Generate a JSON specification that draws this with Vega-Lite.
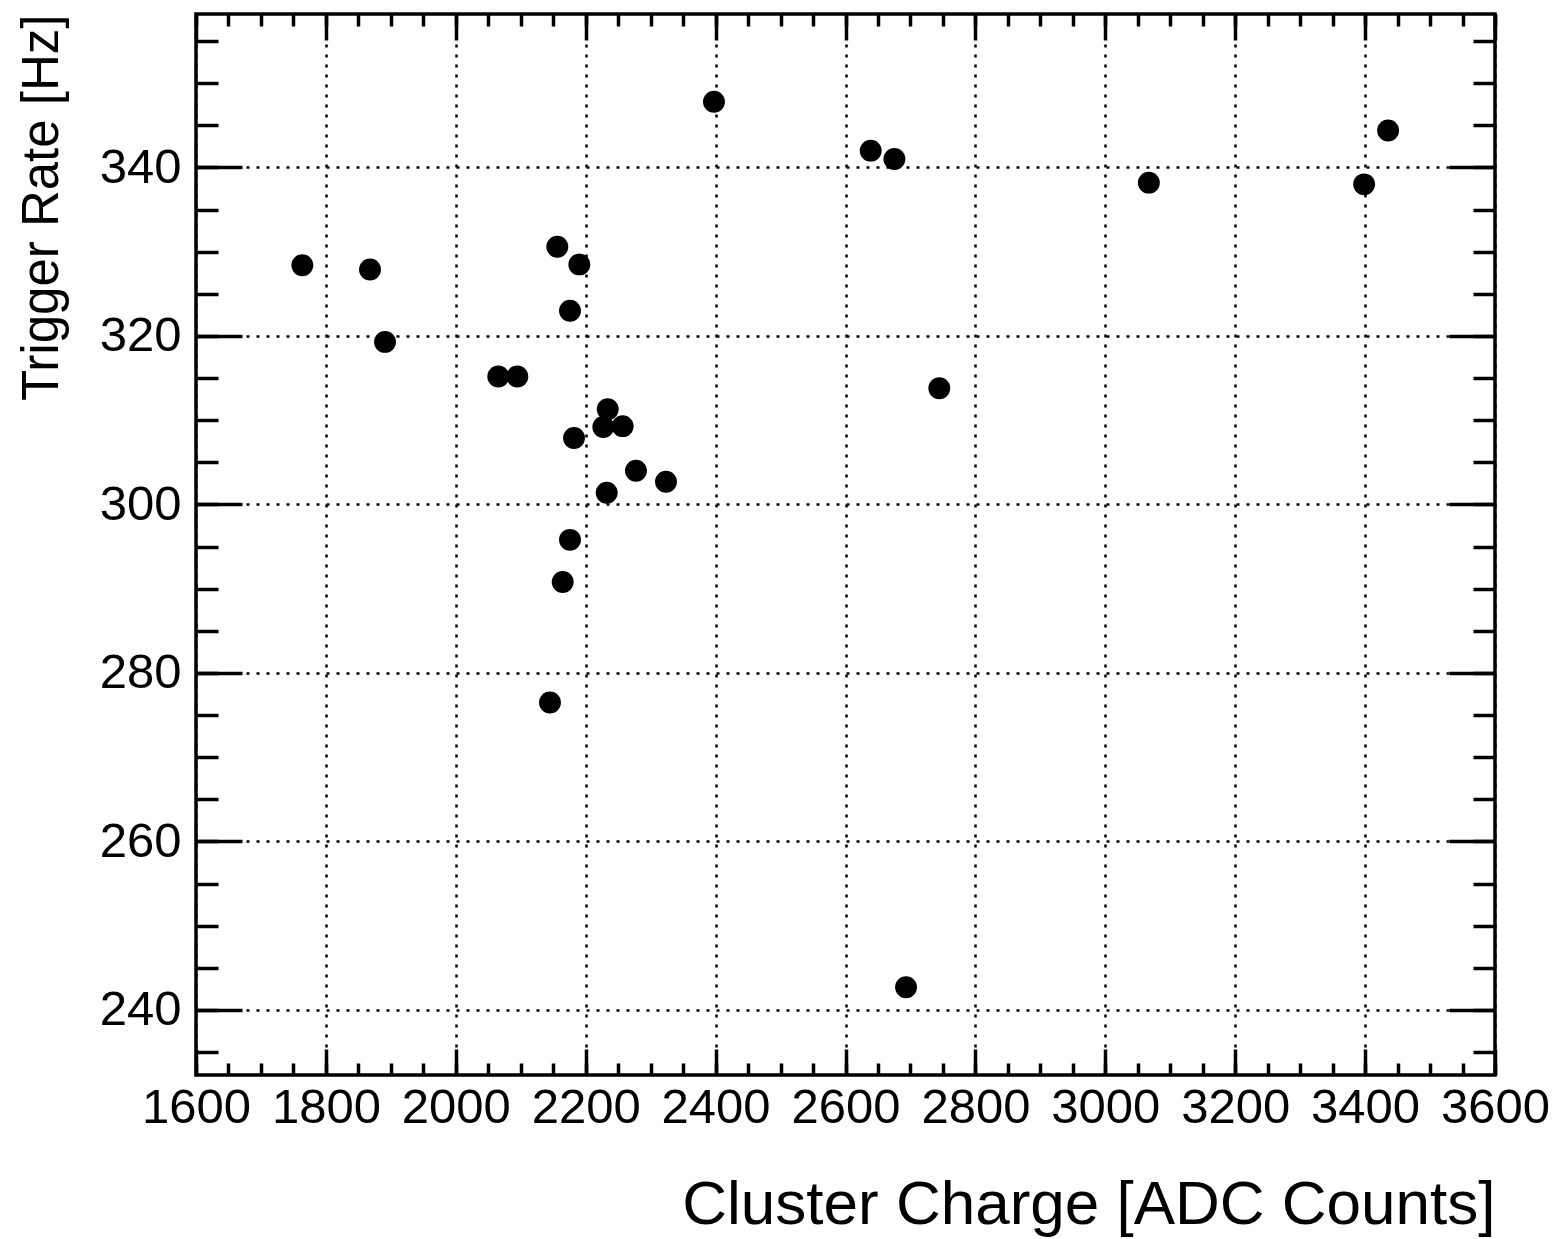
{
  "$schema": "https://vega.github.io/schema/vega-lite/v6.json",
  "autosize": {"type": "none"},
  "padding": {"left": 196, "top": 14, "right": 66, "bottom": 164},
  "width": 1299,
  "height": 1061,
  "background": "white",
  "config": {
    "font": "Liberation Sans",
    "view": {"stroke": "black", "strokeWidth": 3.5},
    "axis": {
      "domain": false,
      "tickColor": "black",
      "tickWidth": 3.5,
      "labelColor": "black",
      "labelFont": "Liberation Sans",
      "labelFontSize": 49,
      "titleFont": "Liberation Sans",
      "titleColor": "black",
      "titleFontWeight": "normal",
      "labelFlush": false,
      "labelOverlap": false,
      "labelBound": false
    }
  },
  "data": {
    "values": [
      {"charge": 1763.7, "rate": 328.4},
      {"charge": 1867.9, "rate": 327.9},
      {"charge": 1891.0, "rate": 319.3},
      {"charge": 2065.4, "rate": 315.2},
      {"charge": 2094.7, "rate": 315.2},
      {"charge": 2156.3, "rate": 330.6},
      {"charge": 2190.2, "rate": 328.5},
      {"charge": 2175.8, "rate": 323.0},
      {"charge": 2182.0, "rate": 307.9},
      {"charge": 2233.9, "rate": 311.3},
      {"charge": 2227.1, "rate": 309.2},
      {"charge": 2256.9, "rate": 309.3},
      {"charge": 2277.4, "rate": 304.0},
      {"charge": 2323.6, "rate": 302.7},
      {"charge": 2232.3, "rate": 301.4},
      {"charge": 2175.8, "rate": 295.8},
      {"charge": 2164.6, "rate": 290.8},
      {"charge": 2145.0, "rate": 276.5},
      {"charge": 2397.5, "rate": 347.8},
      {"charge": 2638.8, "rate": 342.0},
      {"charge": 2675.3, "rate": 341.0},
      {"charge": 2744.4, "rate": 313.8},
      {"charge": 2693.2, "rate": 242.7},
      {"charge": 3067.1, "rate": 338.2},
      {"charge": 3398.5, "rate": 338.0},
      {"charge": 3435.4, "rate": 344.4}
    ]
  },
  "resolve": {"axis": {"x": "independent", "y": "independent"}},
  "layer": [
    {
      "mark": {"type": "point", "opacity": 0},
      "encoding": {
        "x": {"field": "charge", "type": "quantitative",
          "scale": {"domain": [1600, 3600], "nice": false, "zero": false},
          "axis": {"orient": "bottom", "title": null, "labels": false, "grid": false, "tickSize": -12,
            "values": [1600,1650,1700,1750,1800,1850,1900,1950,2000,2050,2100,2150,2200,2250,2300,2350,2400,2450,2500,2550,2600,2650,2700,2750,2800,2850,2900,2950,3000,3050,3100,3150,3200,3250,3300,3350,3400,3450,3500,3550,3600]}},
        "y": {"field": "rate", "type": "quantitative",
          "scale": {"domain": [232.28, 358.22], "nice": false, "zero": false},
          "axis": {"orient": "left", "title": null, "labels": false, "grid": false, "tickSize": -22,
            "values": [235,240,245,250,255,260,265,270,275,280,285,290,295,300,305,310,315,320,325,330,335,340,345,350,355]}}
      }
    },
    {
      "mark": {"type": "point", "opacity": 0},
      "encoding": {
        "x": {"field": "charge", "type": "quantitative",
          "scale": {"domain": [1600, 3600], "nice": false, "zero": false},
          "axis": {"orient": "top", "title": null, "labels": false, "grid": false, "tickSize": -12,
            "values": [1600,1650,1700,1750,1800,1850,1900,1950,2000,2050,2100,2150,2200,2250,2300,2350,2400,2450,2500,2550,2600,2650,2700,2750,2800,2850,2900,2950,3000,3050,3100,3150,3200,3250,3300,3350,3400,3450,3500,3550,3600]}},
        "y": {"field": "rate", "type": "quantitative",
          "scale": {"domain": [232.28, 358.22], "nice": false, "zero": false},
          "axis": {"orient": "right", "title": null, "labels": false, "grid": false, "tickSize": -22,
            "values": [235,240,245,250,255,260,265,270,275,280,285,290,295,300,305,310,315,320,325,330,335,340,345,350,355]}}
      }
    },
    {
      "mark": {"type": "point", "opacity": 0},
      "encoding": {
        "x": {"field": "charge", "type": "quantitative",
          "scale": {"domain": [1600, 3600], "nice": false, "zero": false},
          "axis": {"orient": "top", "title": null, "labels": false, "grid": false, "tickSize": -26,
            "values": [1600,1800,2000,2200,2400,2600,2800,3000,3200,3400,3600]}},
        "y": {"field": "rate", "type": "quantitative",
          "scale": {"domain": [232.28, 358.22], "nice": false, "zero": false},
          "axis": {"orient": "right", "title": null, "labels": false, "grid": false, "tickSize": -46,
            "values": [240,260,280,300,320,340]}}
      }
    },
    {
      "mark": {"type": "point", "filled": true, "color": "black", "size": 480, "opacity": 1, "strokeWidth": 0},
      "encoding": {
        "x": {"field": "charge", "type": "quantitative",
          "scale": {"domain": [1600, 3600], "nice": false, "zero": false},
          "axis": {"orient": "bottom", "title": "Cluster Charge [ADC Counts]", "titleFontSize": 62,
            "titleAnchor": "end", "titlePadding": 42, "format": "d",
            "labelPadding": 34, "tickSize": -26,
            "grid": true, "gridColor": "black", "gridOpacity": 1, "gridWidth": 2.5, "gridDash": [3, 7],
            "values": [1600,1800,2000,2200,2400,2600,2800,3000,3200,3400,3600]}},
        "y": {"field": "rate", "type": "quantitative",
          "scale": {"domain": [232.28, 358.22], "nice": false, "zero": false},
          "axis": {"orient": "left", "title": "Trigger Rate [Hz]", "titleFontSize": 51,
            "titleAnchor": "end", "titlePadding": 31, "format": "d",
            "labelPadding": 61, "tickSize": -46,
            "grid": true, "gridColor": "black", "gridOpacity": 1, "gridWidth": 2.5, "gridDash": [3, 7],
            "values": [240,260,280,300,320,340]}}
      }
    }
  ]
}
